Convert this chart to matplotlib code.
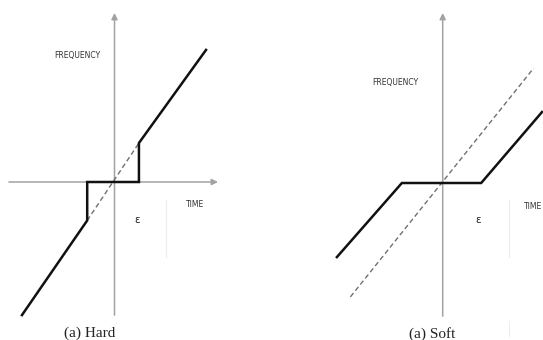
import matplotlib.pyplot as plt

# units: 1 = threshold-ish spacing (about 26 px)
PX = 26.0

# hard thresholding: solid response and identity (dashed)
hard_x = [-3.56, -1.05, -1.05, 0.94, 0.94, 3.52]
hard_y = [-5.12, -1.48, 0.0, 0.0, 1.50, 5.08]
hard_dash_x = [-1.05, 0.94]
hard_dash_y = [-1.48, 1.50]

# soft thresholding
soft_x = [-4.07, -1.57, 1.48, 3.82]
soft_y = [-2.85, 0.0, 0.0, 2.73]
soft_dash_x = [-3.55, 3.50]
soft_dash_y = [-4.38, 4.42]

axis_col = '#a2a2a2'
narrow = ['Liberation Sans Narrow', 'DejaVu Sans']

fig = plt.figure(figsize=(5.43, 3.40), dpi=100)


def panel(rect, origin, width_px, x_axis, y_axis, freq_xy, time_xy, eps_xy, cap_xy, caption):
    ax = fig.add_axes(rect)
    ox, oy = origin
    ax.set_xlim(-ox / PX, (width_px - ox) / PX)
    ax.set_ylim(-(340 - oy) / PX, oy / PX)
    ax.axis('off')
    # axes with arrow heads
    ax.annotate('', xy=(x_axis[1], 0), xytext=(x_axis[0], 0), zorder=1,
                arrowprops=dict(arrowstyle='-|>', color=axis_col, lw=1.1,
                                mutation_scale=9, shrinkA=0, shrinkB=0))
    ax.annotate('', xy=(0, y_axis[1]), xytext=(0, y_axis[0]), zorder=1,
                arrowprops=dict(arrowstyle='-|>', color=axis_col, lw=1.1,
                                mutation_scale=9, shrinkA=0, shrinkB=0))
    ax.text(*freq_xy, 'FREQUENCY', fontsize=5.5, family=narrow, color='#333333',
            ha='center', va='center')
    ax.text(*time_xy, 'TIME', fontsize=5.5, family=narrow, color='#333333',
            ha='center', va='center')
    ax.text(*eps_xy, 'ε', fontsize=7.5, color='#222222', ha='center', va='center')
    ax.text(*cap_xy, caption, fontsize=11, family=['Liberation Serif', 'DejaVu Serif'],
            color='#222222', ha='center', va='center')
    return ax


ax1 = panel([0, 0, 272 / 543, 1], (114.5, 182), 272, (-4.06, 3.98), (-5.12, 6.5),
            (-1.44, 4.85), (3.1, -0.85), (0.87, -1.46), (-0.94, -5.8), '(a) Hard')
ax1.plot(hard_dash_x, hard_dash_y, color='#707070', lw=1.0, dashes=(3.5, 2.2), zorder=2)
ax1.plot(hard_x, hard_y, color='#111111', lw=1.8, solid_joinstyle='miter', zorder=4)
ax1.plot([1.98, 1.98], [-0.7, -2.88], color='#ededed', lw=0.8)

ax2 = panel([272 / 543, 0, 271 / 543, 1], (170.7, 183), 271, (-4.04, 4.1), (-5.12, 6.54),
            (-1.83, 3.85), (3.47, -0.92), (1.38, -1.42), (-0.41, -5.8), '(a) Soft')
ax2.plot(soft_dash_x, soft_dash_y, color='#707070', lw=1.0, dashes=(3.5, 2.2), zorder=2)
ax2.plot(soft_x, soft_y, color='#111111', lw=1.8, solid_joinstyle='miter', zorder=4)
ax2.plot([2.54, 2.54], [-0.65, -2.85], color='#ededed', lw=0.8)
ax2.plot([2.54, 2.54], [-5.3, -5.9], color='#ededed', lw=0.8)

fig.savefig('out.png', dpi=100)
